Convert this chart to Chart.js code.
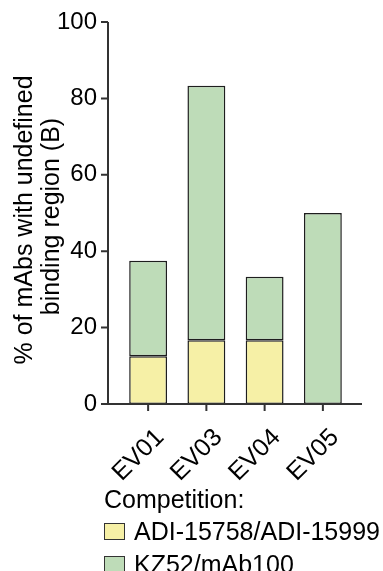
<!DOCTYPE html>
<html>
<head>
<meta charset="utf-8">
<script src="https://cdn.jsdelivr.net/npm/chart.js@4"></script>
<style>
  body { margin: 0; background: #fff; }
  #wrap { position: relative; width: 383px; height: 571px; }
  #legend {
    position: absolute; left: 104px; top: 483px;
    font-family: "Liberation Sans", Arial, sans-serif; font-size: 25px; color: #000;
  }
  #legend .title { height: 32px; line-height: 32px; }
  #legend .item { height: 33px; display: flex; align-items: center; }
  #legend .box { width: 19px; height: 15px; border: 1.5px solid #333; margin-right: 9px; }
</style>
</head>
<body>
<div id="wrap">
  <canvas id="bar-chart" width="383" height="571"></canvas>
  <div id="legend"></div>
</div>
<script>
const categories = ["EV01", "EV03", "EV04", "EV05"];
const adiValues = [12.5, 16.7, 16.7, 0];
const kzValues = [25.0, 66.6, 16.6, 50.0];
const seriesNames = ["ADI-15758/ADI-15999", "KZ52/mAb100"];
const yTicks = [0, 20, 40, 60, 80, 100];

const FONT = "'Liberation Sans', Arial, sans-serif";
const colors = ["#f6f0a6", "#bedcb8"];

// axis lines drawn a bit outside the plot area, like the original figure
const axesPlugin = {
  id: "axes",
  afterDatasetsDraw(chart) {
    const { ctx, chartArea, scales } = chart;
    const x0 = chartArea.left - 11;
    const x1 = chartArea.right + 10;
    const yb = scales.y.getPixelForValue(0);
    const yt = scales.y.getPixelForValue(100);
    ctx.save();
    ctx.strokeStyle = "#333";
    ctx.lineWidth = 2;
    ctx.beginPath();
    ctx.moveTo(x0, yt);
    ctx.lineTo(x0, yb);
    ctx.lineTo(x1, yb);
    yTicks.forEach((v) => {
      const py = scales.y.getPixelForValue(v);
      ctx.moveTo(x0 - 7, py);
      ctx.lineTo(x0, py);
    });
    categories.forEach((c, i) => {
      const px = scales.x.getPixelForValue(i);
      ctx.moveTo(px, yb);
      ctx.lineTo(px, yb + 7);
    });
    ctx.stroke();
    ctx.restore();
  },
};

new Chart(document.getElementById("bar-chart").getContext("2d"), {
  type: "bar",
  data: {
    labels: categories,
    datasets: [adiValues, kzValues].map((vals, i) => ({
      label: seriesNames[i],
      data: vals,
      backgroundColor: colors[i],
      borderColor: "#1e1e1e",
      borderWidth: 1.5,
      borderSkipped: false,
      barPercentage: 0.65,
      categoryPercentage: 1,
    })),
  },
  options: {
    responsive: false,
    animation: false,
    devicePixelRatio: 1,
    layout: { padding: { top: 22, right: 31, left: 0, bottom: 0 } },
    plugins: { legend: { display: false }, tooltip: { enabled: false } },
    scales: {
      x: {
        stacked: true,
        grid: { display: false, drawTicks: false },
        border: { display: false },
        ticks: {
          color: "#000",
          font: { family: FONT, size: 25 },
          minRotation: 45,
          maxRotation: 45,
          padding: 19,
          labelOffset: 12,
        },
        afterFit: (scale) => { scale.height = 167; },
      },
      y: {
        stacked: true,
        min: 0,
        max: 100,
        grid: { display: false, drawTicks: false },
        border: { display: false },
        ticks: {
          stepSize: 20,
          color: "#000",
          font: { family: FONT, size: 24 },
          padding: 22,
        },
        title: {
          display: true,
          // trailing spaces nudge the rotated text down a little
          text: ["% of mAbs with undefined  ", "binding region (B) "],
          color: "#000",
          font: { family: FONT, size: 25, lineHeight: 1.1 },
          padding: { top: 11, bottom: 0 },
        },
        afterFit: (scale) => {
          scale.width = 119;
          scale.paddingTop = 0;
          scale.paddingBottom = 0;
        },
      },
    },
  },
  plugins: [axesPlugin],
});

// legend as html under the chart
const legend = document.getElementById("legend");
legend.innerHTML = '<div class="title">Competition:</div>' +
  seriesNames.map((name, i) =>
    '<div class="item"><span class="box" style="background:' + colors[i] + '"></span>' + name + "</div>"
  ).join("");
</script>
</body>
</html>
